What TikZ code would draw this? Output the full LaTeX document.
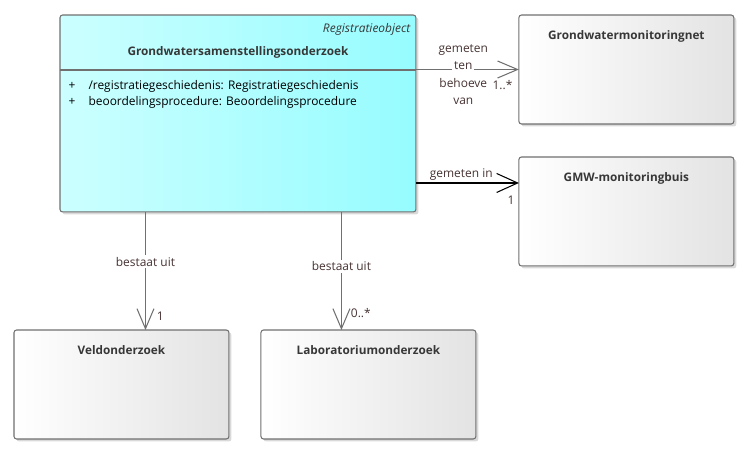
\documentclass[tikz,border=0pt]{standalone}
\usepackage{fontspec}
\setmainfont{Open Sans}
\usetikzlibrary{arrows.meta,positioning,shadows}
\definecolor{cyanleft}{RGB}{204,255,255}
\definecolor{cyanright}{RGB}{150,252,255}
\definecolor{boxline}{RGB}{112,112,112}
\definecolor{assocline}{RGB}{112,112,112}
\definecolor{labeltext}{RGB}{70,50,50}
\definecolor{titletext}{RGB}{55,55,55}

\begin{document}
\begin{tikzpicture}[x=0.02cm,y=-0.02cm,>={Straight Barb[length=0.4cm,width=0.34cm]},
                    font=\fontsize{6.8}{8}\selectfont,semithick]
  \tikzstyle{klasse}=[draw=boxline,rounded corners=1.5pt,left color=white,right color=black!11,
                      drop shadow={shadow xshift=0.05cm,shadow yshift=-0.05cm,opacity=0.3},
                      minimum width=4.3cm,minimum height=2.18cm,anchor=north west,outer sep=0pt]
  \tikzstyle{object}=[klasse,left color=cyanleft,right color=cyanright,
                      minimum width=7.12cm,minimum height=3.94cm]
  \tikzstyle{titel}=[inner sep=0pt,text=titletext,font=\fontsize{6.7}{8}\selectfont\bfseries]
  \tikzstyle{assoc}=[->,draw=assocline,semithick]
  \tikzstyle{rol}=[inner sep=1pt,text=labeltext]
  \tikzstyle{mult}=[inner sep=0pt,text=labeltext]

  \useasboundingbox (0,0) rectangle (752,458);

  \node[object] (GSO)   at (60,15)                                {};
  \node[klasse] (GMN)   [right=2.06cm of GSO.north east,anchor=north west] {};
  \node[klasse] (GMW)   [below=0.66cm of GMN]                     {};
  \node[klasse] (Veld)  at (14,330)                               {};
  \node[klasse] (Lab)   [right=0.64cm of Veld,anchor=west]        {};

  % teksten in de klassen
  \node[inner sep=0pt,text=titletext,font=\fontsize{6.8}{8}\selectfont\itshape]
        (GSOst)  [below left=0.15cm and 0.1cm of GSO.north east]  {Registratieobject};
  \node[titel]  (GSOn)  [below=0.63cm of GSO.north]               {Grondwatersamenstellingsonderzoek};
  \coordinate[below=1.1cm of GSO.north] (split);
  \draw[boxline] (split -| GSO.west) -- (split -| GSO.east);
  \node[inner sep=0pt,text=black,align=left,anchor=north west,
        font=\fontsize{6.8}{9.1}\selectfont]
        (GSOattr) at (68,80)
        {\makebox[0.4cm][l]{+}/registratiegeschiedenis: Registratiegeschiedenis\\
         \makebox[0.4cm][l]{+}beoordelingsprocedure: Beoordelingsprocedure};
  \node[titel]  (GMNn)  [below=0.31cm of GMN.north]               {Grondwatermonitoringnet};
  \node[titel]  (GMWn)  [below=0.31cm of GMW.north]               {GMW-monitoringbuis};
  \node[titel]  (Veldn) [below=0.31cm of Veld.north]              {Veldonderzoek};
  \node[titel]  (Labn)  [below=0.31cm of Lab.north]               {Laboratoriumonderzoek};

  % aansluitpunten
  \coordinate[below=0.52cm of GMW.north west] (gmwin);
  \coordinate[right=0.48cm of Veld.north]     (veldin);
  \coordinate[left=0.54cm of Lab.north]       (labin);

  \path (GSO.east |- GMN.west) edge[assoc]
              node[rol,pos=0.46,yshift=-0.1cm,align=center,font=\fontsize{6.8}{10}\selectfont]
                 {gemeten\\\colorbox{white}{\kern-2pt ten\kern-2pt}\\behoeve\\van}
              node[mult,pos=1,anchor=north east,xshift=-0.12cm,yshift=-0.2cm] {1..*}  (GMN.west)
        (GSO.east |- gmwin) edge[assoc,draw=black,-{Straight Barb[length=0.42cm,width=0.38cm]}]
              node[rol,pos=0.44,above]                                      {gemeten in}
              node[mult,pos=1,anchor=north east,xshift=-0.08cm,yshift=-0.24cm] {1}     (gmwin)
        (GSO.south -| veldin) edge[assoc]
              node[rol,pos=0.42,fill=white]                                 {bestaat uit}
              node[mult,pos=1,anchor=south west,xshift=0.22cm,yshift=0.18cm] {1}     (veldin)
        (GSO.south -| labin) edge[assoc]
              node[rol,pos=0.46,fill=white]                                 {bestaat uit}
              node[mult,pos=1,anchor=south west,xshift=0.18cm,yshift=0.24cm] {0..*}  (labin);
\end{tikzpicture}
\end{document}
